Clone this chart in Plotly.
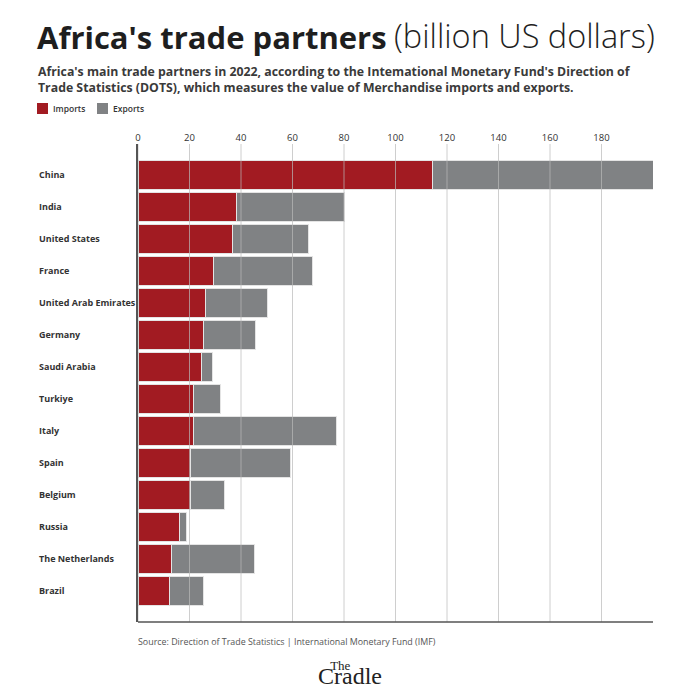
import plotly.graph_objects as go

categories = ["China", "India", "United States", "France", "United Arab Emirates",
              "Germany", "Saudi Arabia", "Turkiye", "Italy", "Spain", "Belgium",
              "Russia", "The Netherlands", "Brazil"]
imports = [114.2, 38.4, 36.8, 29.4, 26.1, 25.3, 24.7, 21.7, 21.7, 20.4, 20.4, 16.2, 13.0, 12.2]
exports = [85.8, 41.7, 29.3, 38.3, 24.3, 20.4, 4.2, 10.5, 55.3, 39.0, 13.0, 2.5, 32.2, 13.1]
tick_values = [0, 20, 40, 60, 80, 100, 120, 140, 160, 180]
series_names = ["Imports", "Exports"]

W, H = 700, 700
L, R, T, B = 138, 47, 144, 78
PW, PH = W - L - R, H - T - B

def px(x):
    return (x - L) / PW

def py(y):
    return (H - B - y) / PH

FONT = "Open Sans"
COLORS = ["#a21b22", "#808284"]

fig = go.Figure()
for name, vals, col in zip(series_names, [imports, exports], COLORS):
    fig.add_trace(go.Bar(y=categories, x=vals, name=name, orientation="h",
                         marker=dict(color=col, line=dict(color="#e4e4e4", width=1))))

shapes = []
for v in tick_values:
    shapes.append(dict(type="line", xref="x", yref="paper", x0=v, x1=v, y0=0, y1=1,
                       line=dict(color="rgba(185,185,185,0.7)", width=1), layer="above"))
shapes.append(dict(type="line", xref="paper", yref="paper", x0=0, x1=1, y0=0, y1=0,
                   line=dict(color="#555", width=1.5), layer="above"))

annotations = []
for c in categories:
    annotations.append(dict(text="<b>" + c + "</b>", x=px(37), y=c, xref="paper", yref="y",
                            xanchor="left", yanchor="middle", showarrow=False,
                            font=dict(family=FONT, size=9, color="#333")))

# custom legend
for i, (name, col) in enumerate(zip(series_names, COLORS)):
    x0 = 37 + i * 60
    shapes.append(dict(type="rect", xref="paper", yref="paper",
                       x0=px(x0), x1=px(x0 + 11), y0=py(114), y1=py(103),
                       fillcolor=col, line=dict(width=0)))
    annotations.append(dict(text=name, x=px(x0 + 14), y=py(108.5), xref="paper", yref="paper",
                            xanchor="left", yanchor="middle", showarrow=False,
                            font=dict(family=FONT, size=8.5, color="#333", weight=600)))

annotations += [
    dict(text="<b>Africa's trade partners</b>", x=px(35), y=py(60), xref="paper", yref="paper",
         xanchor="left", yanchor="bottom", showarrow=False,
         font=dict(family=FONT, size=31, color="#1e1e1e")),
    dict(text="(billion US dollars)", x=px(392), y=py(60), xref="paper", yref="paper",
         xanchor="left", yanchor="bottom", showarrow=False,
         font=dict(family=FONT, size=32.5, color="#1e1e1e", weight=300)),
    dict(text="<b>Africa's main trade partners in 2022, according to the Intemational Monetary Fund's Direction of<br>"
              "Trade Statistics (DOTS), which measures the value of Merchandise imports and exports.</b>",
         x=px(36), y=py(61), xref="paper", yref="paper", xanchor="left", yanchor="top",
         align="left", showarrow=False,
         font=dict(family=FONT, size=12.3, color="#3a3a3a")),
    dict(text="Source: Direction of Trade Statistics | International Monetary Fund (IMF)",
         x=px(136), y=py(641), xref="paper", yref="paper", xanchor="left", yanchor="middle",
         showarrow=False, font=dict(family=FONT, size=8.9, color="#555")),
    dict(text="<span style='font-size:13px'>The&nbsp;&nbsp;&nbsp;&nbsp;&nbsp;&nbsp;</span><br>"
              "<span style='font-size:24px'>Cradle</span>",
         x=px(350), y=py(673), xref="paper", yref="paper", xanchor="center",
         yanchor="middle", align="center", showarrow=False,
         font=dict(family="Liberation Serif", size=10.5, color="#222")),
]

fig.update_layout(
    width=W, height=H, autosize=False,
    margin=dict(l=L, r=R, t=T, b=B),
    paper_bgcolor="white", plot_bgcolor="white",
    barmode="stack", bargap=0.11,
    font=dict(family=FONT, color="#333"),
    showlegend=False,
    xaxis=dict(side="top", range=[0, 200], tickvals=tick_values, showgrid=False,
               zeroline=False, showline=False, ticks="", tickfont=dict(size=9.5, color="#333"),
               fixedrange=True),
    yaxis=dict(categoryorder="array", categoryarray=categories, range=[13.975, -0.966],
               showticklabels=False, showline=True, linecolor="#555", linewidth=1.5,
               showgrid=False, zeroline=False, ticks="", fixedrange=True),
    shapes=shapes,
    annotations=annotations,
)

fig.write_html("out.html", config={"displayModeBar": False},
               post_script="document.body.style.margin='0';")
